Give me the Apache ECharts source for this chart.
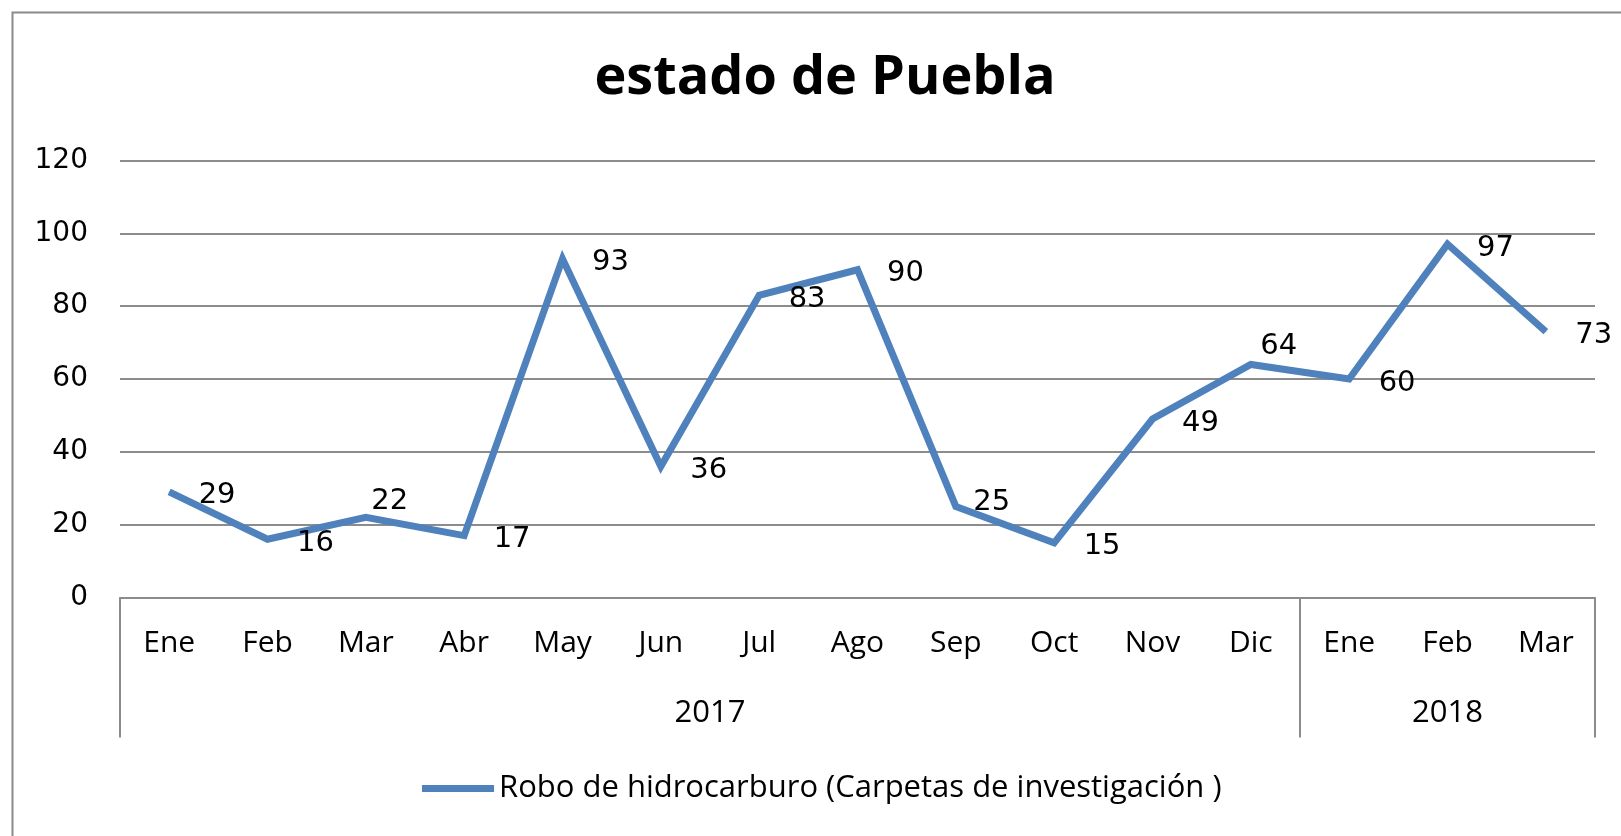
<!DOCTYPE html>
<html>
<head>
<meta charset="utf-8">
<script src="https://cdn.jsdelivr.net/npm/echarts@6/dist/echarts.min.js"></script>
<style>
html,body{margin:0;padding:0;background:#fff;}
#chart{width:1621px;height:836px;}
</style>
</head>
<body>
<div id="chart"></div>
<script>
var titleText = 'estado de Puebla';
var seriesName = 'Robo de hidrocarburo (Carpetas de investigación )';
var months = ['Ene','Feb','Mar','Abr','May','Jun','Jul','Ago','Sep','Oct','Nov','Dic','Ene','Feb','Mar'];
var values = [29,16,22,17,93,36,83,90,25,15,49,64,60,97,73];
var years = ['2017','2018'];
var yearCounts = [12,3];
var yTicks = [0,20,40,60,80,100,120];

// label nudges (style only) for labels moved off the line in the original
var labelNudge = {2: [-24, -20], 8: [-12, -8], 11: [-20, -22]};

var bounds = [0], centers = [], acc = 0;
for (var i = 0; i < years.length; i++) {
  centers.push(acc + yearCounts[i] / 2);
  acc += yearCounts[i];
  bounds.push(acc);
}

var numFont = 'DejaVu Sans';
var txtFont = 'Open Sans';
var gray = '#8c8c8c';

var seriesData = values.map(function (v, idx) {
  var n = labelNudge[idx] || [0, 0];
  return {value: v, label: {offset: [n[0], n[1] + 4]}};
});

var chart = echarts.init(document.getElementById('chart'), null, {renderer:'canvas'});
chart.setOption({
  animation: false,
  backgroundColor: '#fff',
  title: {
    text: titleText,
    left: 820,
    textAlign: 'center',
    top: 47,
    textStyle: {fontFamily: txtFont, fontWeight: 'bold', fontSize: 54, color: '#000'}
  },
  graphic: [{
    type: 'rect', left: 10, top: 10, z: -1,
    shape: {width: 1700, height: 1000},
    style: {fill: 'none', stroke: '#8a8a8a', lineWidth: 2}
  }],
  legend: {
    left: 422, top: 773, padding: 0,
    icon: 'rect', itemWidth: 72, itemHeight: 7, itemGap: 10,
    textStyle: {fontFamily: txtFont, fontSize: 31, color: '#000'},
    data: [seriesName]
  },
  grid: {left: 120, right: 26, top: 160.5, bottom: 238.5, containLabel: false},
  xAxis: [{
    type: 'category',
    data: months,
    boundaryGap: true,
    axisLine: {show: true, lineStyle: {color: gray, width: 2}},
    axisTick: {show: false},
    axisLabel: {margin: 31, fontFamily: txtFont, fontSize: 30, color: '#000', interval: 0}
  }, {
    type: 'value',
    position: 'bottom',
    min: 0, max: months.length,
    splitLine: {show: false},
    axisLine: {show: false},
    axisTick: {show: true, customValues: bounds, length: 140, lineStyle: {color: gray, width: 2}},
    axisLabel: {
      show: true, margin: 100, customValues: centers,
      fontFamily: txtFont, fontSize: 31, color: '#000',
      formatter: function (v) {
        var k = centers.indexOf(v);
        return k >= 0 ? years[k] : '';
      }
    }
  }],
  yAxis: {
    type: 'value',
    min: yTicks[0], max: yTicks[yTicks.length - 1], interval: yTicks[1] - yTicks[0],
    axisLine: {show: false},
    axisTick: {show: false},
    splitLine: {show: true, lineStyle: {color: gray, width: 2}},
    axisLabel: {margin: 32, fontFamily: numFont, fontSize: 28, color: '#000'}
  },
  series: [{
    name: seriesName,
    type: 'line',
    xAxisIndex: 0,
    data: seriesData,
    symbol: 'circle',
    symbolSize: 1,
    showSymbol: true,
    itemStyle: {color: '#4f81bd'},
    lineStyle: {color: '#4f81bd', width: 7, join: 'miter'},
    emphasis: {disabled: true},
    label: {
      show: true, position: 'right', distance: 29,
      fontFamily: numFont, fontSize: 29, color: '#000'
    },
    z: 3
  }]
});
</script>
</body>
</html>
